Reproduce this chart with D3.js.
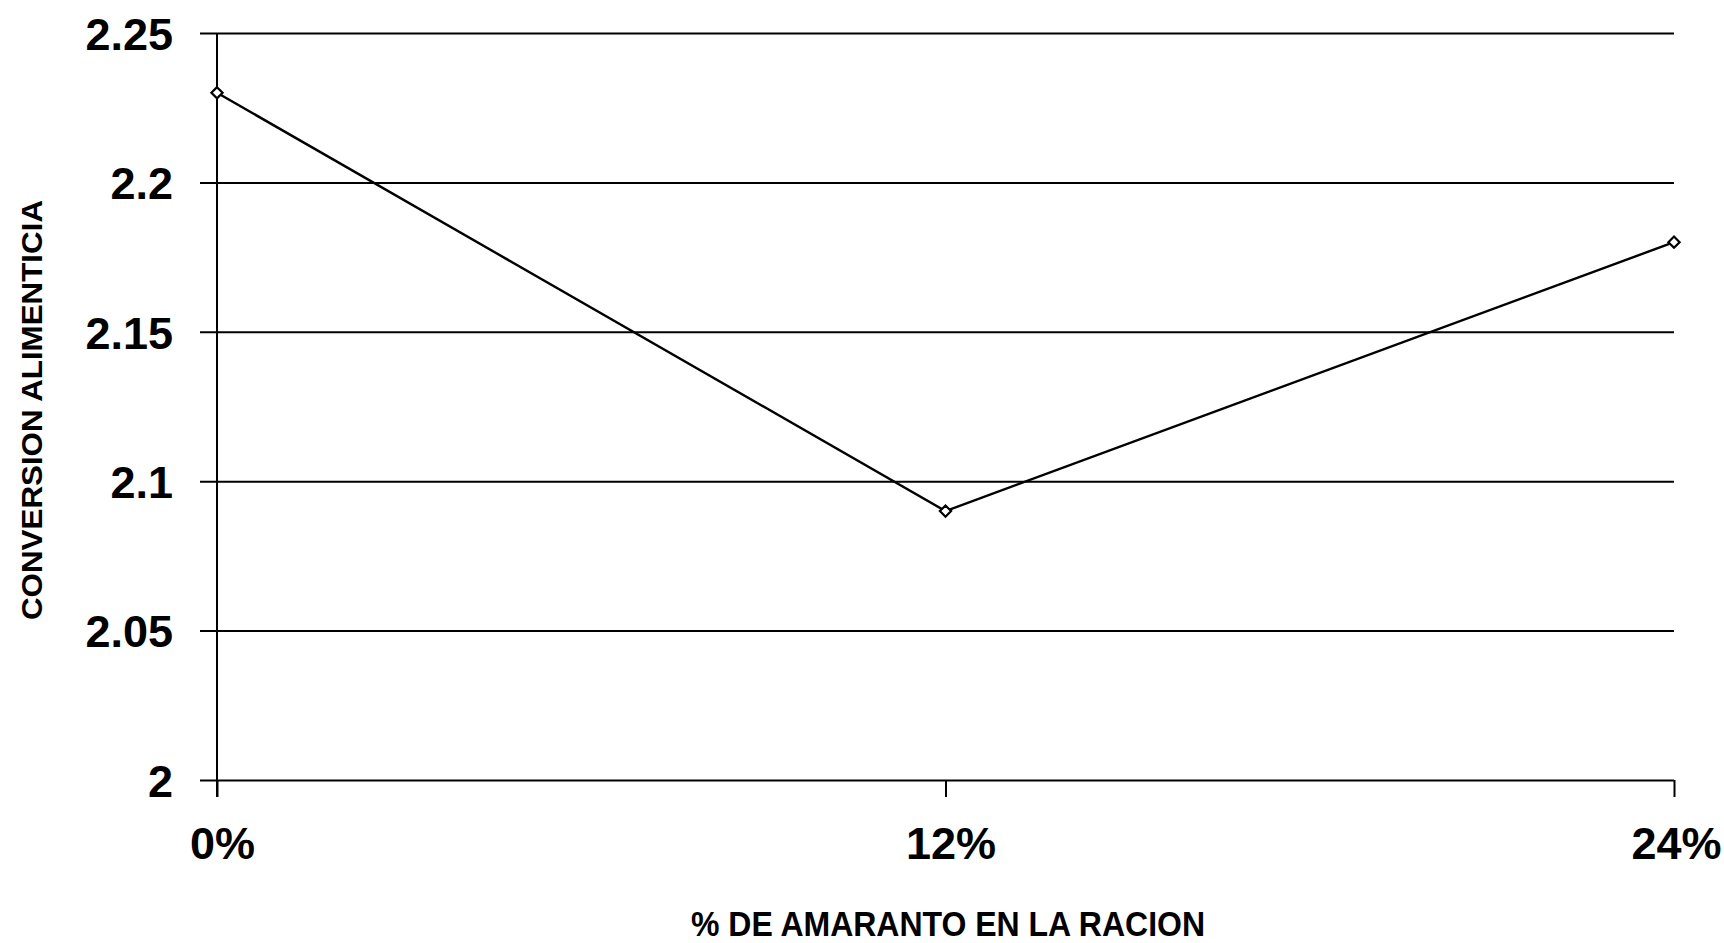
<!DOCTYPE html>
<meta charset="utf-8">
<script src="https://d3js.org/d3.v7.min.js"></script>
<style>
  body { margin: 0; background: #fff; }
  text { font-family: Arial, "Liberation Sans", sans-serif; font-weight: bold; fill: #000; }
</style>
<div id="my_dataviz"></div>
<script>
    // data
    var categories = ["0%", "12%", "24%"];
    var conversion = [2.23, 2.09, 2.18];
    var yTicks = [2, 2.05, 2.1, 2.15, 2.2, 2.25];

    var width = 1724, height = 943;
    var plotLeft = 217, plotRight = 1674, plotTop = 33, plotBottom = 780;

    var svg = d3.select("#my_dataviz")
        .append("svg")
        .attr("width", width)
        .attr("height", height);

    var xScale = d3.scalePoint().domain(categories).range([plotLeft, plotRight]);
    var yScale = d3.scaleLinear().domain([2, 2.25]).range([plotBottom, plotTop]);

    // horizontal gridlines + left ticks
    var yAxis = d3.axisLeft(yScale)
        .tickValues(yTicks)
        .tickFormat(function (d) { return d3.format("")(d); })
        .tickSize(-(plotRight - plotLeft));

    var gy = svg.append("g")
        .attr("transform", `translate(${plotLeft},0)`)
        .call(yAxis);
    gy.select(".domain").remove();
    gy.selectAll(".tick line")
        .attr("x1", -17)
        .attr("stroke", "#000")
        .attr("stroke-width", 2);
    gy.selectAll(".tick text")
        .attr("font-size", 45)
        .attr("dy", "0.36em")
        .attr("x", -44);

    // vertical axis line
    svg.append("line")
        .attr("x1", plotLeft).attr("x2", plotLeft)
        .attr("y1", plotTop).attr("y2", plotBottom + 17)
        .attr("stroke", "#000").attr("stroke-width", 2);

    // bottom ticks and labels
    var xAxis = d3.axisBottom(xScale)
        .tickSize(17)
        .tickPadding(30);
    var gx = svg.append("g")
        .attr("transform", `translate(0,${plotBottom})`)
        .call(xAxis);
    gx.select(".domain").remove();
    gx.selectAll(".tick line").attr("stroke", "#000").attr("stroke-width", 2);
    gx.selectAll(".tick text")
        .attr("font-size", 45)
        .attr("dx", function (d, i) { return i === 2 ? 2 : 5; });

    // axis titles
    svg.append("text")
        .attr("x", 948)
        .attr("y", 936)
        .attr("text-anchor", "middle")
        .attr("font-size", 35)
        .attr("textLength", 514)
        .attr("lengthAdjust", "spacingAndGlyphs")
        .text("% DE AMARANTO EN LA RACION");

    svg.append("text")
        .attr("transform", "translate(42,410) rotate(-90)")
        .attr("text-anchor", "middle")
        .attr("font-size", 30)
        .attr("textLength", 420)
        .attr("lengthAdjust", "spacingAndGlyphs")
        .text("CONVERSION ALIMENTICIA");

    // the line
    svg.append("path")
        .datum(conversion)
        .attr("fill", "none")
        .attr("stroke", "#000")
        .attr("stroke-width", 2.4)
        .attr("d", d3.line()
            .x(function (d, i) { return xScale(categories[i]); })
            .y(function (d) { return yScale(d); }));

    // markers
    svg.selectAll(".pt")
        .data(conversion)
        .enter()
        .append("path")
        .attr("class", "pt")
        .attr("transform", function (d, i) {
            return `translate(${xScale(categories[i])},${yScale(d)})`;
        })
        .attr("d", d3.symbol().type(d3.symbolDiamond2).size(80))
        .attr("fill", "#fff")
        .attr("stroke", "#000")
        .attr("stroke-width", 2.2);
</script>
